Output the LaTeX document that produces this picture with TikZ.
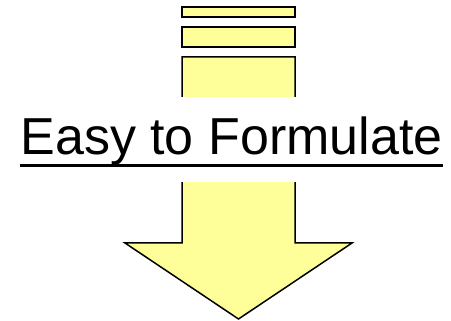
\documentclass[tikz,border=0pt]{standalone}
\usepackage{fontspec}
\setmainfont{Liberation Sans}
\usetikzlibrary{positioning}
\definecolor{myyellow}{RGB}{255,255,153}

\begin{document}
\begin{tikzpicture}[x=1pt,y=-1pt,
  bar/.style={rectangle,draw=black,fill=myyellow,line width=1.5pt,
              minimum width=113pt,inner sep=0pt},
  label/.style={fill=white,inner sep=0pt,text height=58pt,text depth=27pt,
                font=\fontsize{52}{60}\selectfont}]
\useasboundingbox (0,0) rectangle (451,321);
\node[bar,minimum height=10pt] (bar1) at (238.5,12) {};
\node[bar,minimum height=20pt] (bar2) at (238.5,37) {};
\draw[fill=myyellow,line width=1.5pt,line join=miter]
  (182,57) -- (295,57) -- (295,243) -- (352,243) -- (238.5,319)
  -- (125,243) -- (182,243) -- cycle;
\node[label,anchor=base] (txt) at (231.5,155) {Easy to Formulate};
\draw[line width=3pt] ([yshift=-11pt]txt.base west) -- ([yshift=-11pt]txt.base east);
\end{tikzpicture}
\end{document}
